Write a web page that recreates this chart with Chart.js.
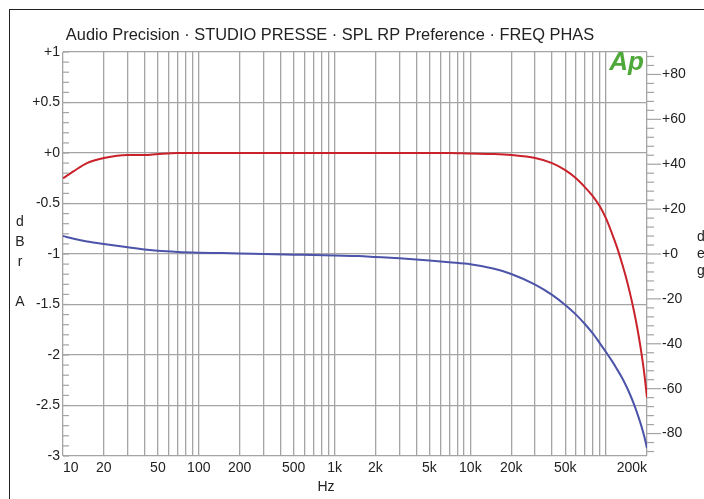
<!DOCTYPE html>
<html>
<head>
<meta charset="utf-8">
<script src="https://cdn.jsdelivr.net/npm/chart.js@4"></script>
<style>
  body { margin: 0; background: #fff; }
  #wrap { position: relative; width: 704px; height: 499px; }
  #frame { position: absolute; left: 9px; top: 9px; right: 0; bottom: 0;
           border-left: 1.5px solid #222; border-top: 1.5px solid #222; pointer-events: none; }
</style>
</head>
<body>
<div id="wrap">
  <canvas id="apChart" width="704" height="499"></canvas>
  <div id="frame"></div>
</div>
<script>
'use strict';

// frequency points (Hz)
const freq = [10, 12, 15, 20, 30, 40, 50, 70, 100, 150, 200, 300, 500, 700, 1000, 1500, 2000, 3000, 5000, 7000,
  10000, 15000, 20000, 30000, 40000, 50000, 60000, 70000, 80000, 90000, 100000, 110000, 120000, 130000,
  140000, 150000, 160000, 170000, 180000, 190000, 200000];

// red: level in dBr A (left axis)
const levelDbr = [-0.25, -0.18, -0.10, -0.05, -0.02, -0.02, -0.01, 0, 0, 0, 0, 0, 0, 0, 0, 0, 0, 0, 0, 0,
  -0.005, -0.01, -0.02, -0.05, -0.10, -0.17, -0.25, -0.34, -0.43, -0.53, -0.65, -0.79, -0.93, -1.08,
  -1.23, -1.39, -1.56, -1.74, -1.94, -2.16, -2.42];

// blue: phase in deg (right axis)
const phaseDeg = [8.0, 6.8, 5.6, 4.5, 3.0, 2.0, 1.4, 0.9, 0.6, 0.4, 0.2, 0, -0.3, -0.5, -0.7, -0.9, -1.3, -1.9, -2.9, -3.7,
  -4.6, -6.6, -8.9, -13.6, -18.2, -22.7, -27.0, -31.3, -35.5, -39.8, -43.8, -47.5, -51.2, -54.8,
  -58.6, -62.6, -66.8, -71.2, -75.8, -80.8, -86.5];

// tick labels
const xLabelValues = [10, 20, 50, 100, 200, 500, 1000, 2000, 5000, 10000, 20000, 50000, 200000];
const xLabelText = ['10', '20', '50', '100', '200', '500', '1k', '2k', '5k', '10k', '20k', '50k', '200k'];
const leftLabelValues = [1, 0.5, 0, -0.5, -1, -1.5, -2, -2.5, -3];
const leftLabelText = ['+1', '+0.5', '+0', '-0.5', '-1', '-1.5', '-2', '-2.5', '-3'];
const rightLabelValues = [80, 60, 40, 20, 0, -20, -40, -60, -80];
const rightLabelText = ['+80', '+60', '+40', '+20', '+0', '-20', '-40', '-60', '-80'];

const FONT = '"Liberation Sans", Arial, sans-serif';
const TXT = '#222';
const GRID = '#a4a4a4';

// all 1..9 x decade positions for the log grid
let xTickValues = [];
for (let d = 10; d <= 100000; d *= 10) {
  for (let m = 1; m <= 9; m++) {
    if (m * d <= 200000) xTickValues.push(m * d);
  }
}

let leftTicks = [];
for (let k = -30; k <= 10; k++) leftTicks.push(k / 10);
let rightTicks = [];
for (let k = -88; k <= 88; k += 4) rightTicks.push(k);

function isHalf(v) { return Math.round(v * 10) % 5 === 0; }

const decor = {
  id: 'decor',
  afterDraw(chart) {
    const c = chart.ctx;
    const a = chart.chartArea;
    const y = chart.scales.y;
    const y1 = chart.scales.y1;
    c.save();
    c.strokeStyle = GRID;
    c.lineWidth = 1.2;
    // left minor ticks, inside the plot
    leftTicks.forEach(function (v) {
      const py = y.getPixelForValue(v);
      c.beginPath(); c.moveTo(a.left, py); c.lineTo(a.left + 6, py); c.stroke();
    });
    // right ticks, outside the plot
    rightTicks.forEach(function (v) {
      const py = y1.getPixelForValue(v);
      const len = (v % 20 === 0) ? 14 : 7;
      c.beginPath(); c.moveTo(a.right, py); c.lineTo(a.right + len, py); c.stroke();
    });

    c.fillStyle = TXT;
    c.font = '16.4px ' + FONT;
    c.textAlign = 'center';
    c.textBaseline = 'middle';
    c.fillText('Audio Precision \u00b7 STUDIO PRESSE \u00b7 SPL RP Preference \u00b7 FREQ PHAS', 330, 35);

    c.font = '14px ' + FONT;
    c.fillText('Hz', 326, 487);
    const leftTitle = [['d', 222], ['B', 242], ['r', 262], ['A', 302]];
    leftTitle.forEach(function (t) { c.fillText(t[0], 20, t[1]); });
    c.textAlign = 'left';
    const rightTitle = [['d', 237], ['e', 254], ['g', 271]];
    rightTitle.forEach(function (t) { c.fillText(t[0], 697, t[1]); });

    // Ap logo
    c.fillStyle = '#4fa83a';
    c.font = 'italic bold 26px ' + FONT;
    c.textAlign = 'right';
    c.textBaseline = 'alphabetic';
    c.fillText('Ap', a.right - 3, 70);
    c.restore();
  }
};

let context = document.querySelector('#apChart').getContext('2d');
new Chart(context, {
  type: 'line',
  data: {
    datasets: [{
      label: 'Level',
      data: freq.map(function (f, i) { return { x: f, y: levelDbr[i] }; }),
      borderColor: '#c9222b',
      borderWidth: 2,
      pointRadius: 0,
      cubicInterpolationMode: 'monotone',
      yAxisID: 'y'
    }, {
      label: 'Phase',
      data: freq.map(function (f, i) { return { x: f, y: phaseDeg[i] }; }),
      borderColor: '#4b54a8',
      borderWidth: 2,
      pointRadius: 0,
      cubicInterpolationMode: 'monotone',
      yAxisID: 'y1'
    }]
  },
  options: {
    responsive: false,
    animation: false,
    layout: { padding: { top: 52, left: 0, right: 0, bottom: 0 } },
    plugins: {
      legend: { display: false },
      tooltip: { enabled: false }
    },
    scales: {
      x: {
        type: 'logarithmic',
        min: 10,
        max: 200000,
        afterBuildTicks: function (s) { s.ticks = xTickValues.map(function (v) { return { value: v }; }); },
        afterFit: function (s) { s.height = 43; },
        grid: { color: GRID, lineWidth: 1.3, drawTicks: false },
        border: { display: false },
        ticks: {
          autoSkip: false,
          maxRotation: 0,
          align: 'inner',
          padding: 4,
          color: TXT,
          font: { family: FONT, size: 14 },
          callback: function (v) {
            const i = xLabelValues.indexOf(v);
            return i >= 0 ? xLabelText[i] : '';
          }
        }
      },
      y: {
        type: 'linear',
        position: 'left',
        min: -3,
        max: 1,
        afterBuildTicks: function (s) { s.ticks = leftTicks.map(function (v) { return { value: v }; }); },
        afterFit: function (s) { s.width = 63; },
        grid: {
          drawTicks: false,
          lineWidth: 1.2,
          color: function (ctx) { return ctx.tick && isHalf(ctx.tick.value) ? GRID : 'rgba(0,0,0,0)'; }
        },
        border: { display: false },
        ticks: {
          autoSkip: false,
          padding: 3,
          color: TXT,
          font: { family: FONT, size: 14 },
          callback: function (v) {
            const i = leftLabelValues.findIndex(function (l) { return Math.abs(l - v) < 1e-6; });
            return i >= 0 ? leftLabelText[i] : '';
          }
        }
      },
      y1: {
        type: 'linear',
        position: 'right',
        min: -90,
        max: 90,
        afterBuildTicks: function (s) { s.ticks = rightTicks.map(function (v) { return { value: v }; }); },
        afterFit: function (s) { s.width = 57; },
        grid: { drawOnChartArea: false, drawTicks: false },
        border: { display: false },
        ticks: {
          autoSkip: false,
          padding: 15,
          color: TXT,
          font: { family: FONT, size: 14 },
          callback: function (v) {
            const i = rightLabelValues.indexOf(v);
            return i >= 0 ? rightLabelText[i] : '';
          }
        }
      }
    }
  },
  plugins: [decor]
});
</script>
</body>
</html>
